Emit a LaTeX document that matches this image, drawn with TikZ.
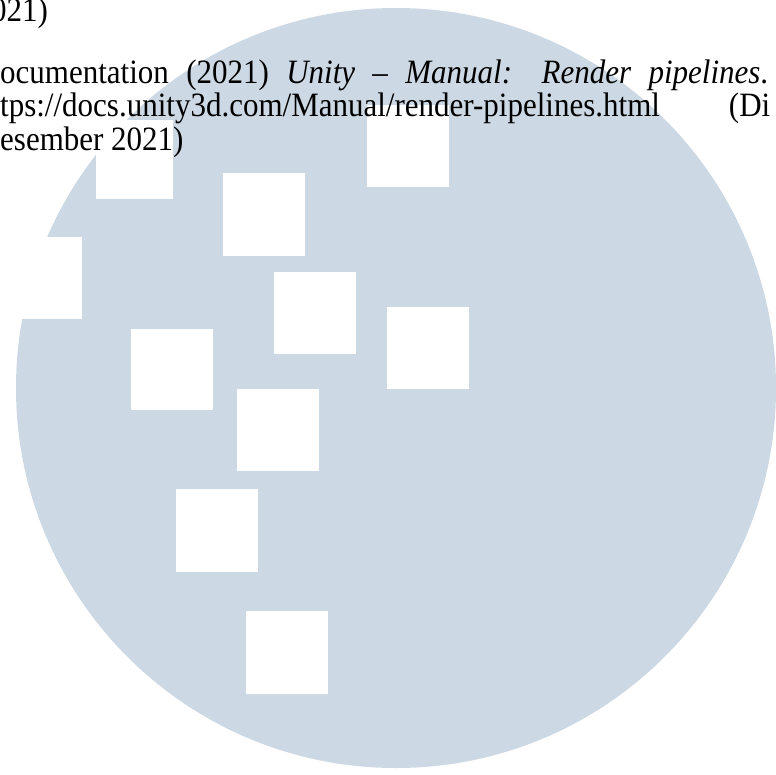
\documentclass[tikz,border=0pt]{standalone}
\usepackage{fontspec}
\setmainfont{Liberation Serif}
\usepackage{xcolor}
\usepackage{tikz}
\usetikzlibrary{positioning}
\definecolor{disc}{RGB}{204,216,227}
\tikzset{
	refline/.style = {
		anchor=base west, inner sep=0pt,
		font=\fontsize{31}{34}\selectfont
	}
}
\newcommand{\tallline}[1]{\scalebox{1}[1.1]{#1}}

\begin{document}
\begin{tikzpicture}[
		x=1pt, y=-1pt,
        tile/.style={fill=white},
        disk/.style={fill=disc}
    ]
    \useasboundingbox (0,0) rectangle (776,774);
    \clip (0,0) rectangle (776,774);

    % watermark disc with its squares
    \fill[disk] (396,388) circle (380);
    \fill[tile] (96,120)  rectangle (173,199);
    \fill[tile] (367,105) rectangle (449,187);
    \fill[tile] (223,173) rectangle (305,256);
    \fill[tile] (-5,237)  rectangle (82,319);
    \fill[tile] (274,272) rectangle (356,354);
    \fill[tile] (387,307) rectangle (469,389);
    \fill[tile] (131,329) rectangle (213,410);
    \fill[tile] (237,389) rectangle (319,471);
    \fill[tile] (176,489) rectangle (258,572);
    \fill[tile] (246,611) rectangle (328,694);

    % reference text
    \node[refline] (yr)   at (-9,21)  {\tallline{021)}};
    \node[refline] (docs) at (0,83)   {\tallline{\makebox[768pt][s]{ocumentation (2021) \textit{Unity – Manual: Render pipelines}.}}};
    \node[refline] (url)  at (0,116)  {\tallline{\makebox[770pt][s]{tps://docs.unity3d.com/Manual/render-pipelines.html (Di}}};
    \node[refline] (date) at (0,150)  {\tallline{esember 2021)}};

\end{tikzpicture}
\end{document}
